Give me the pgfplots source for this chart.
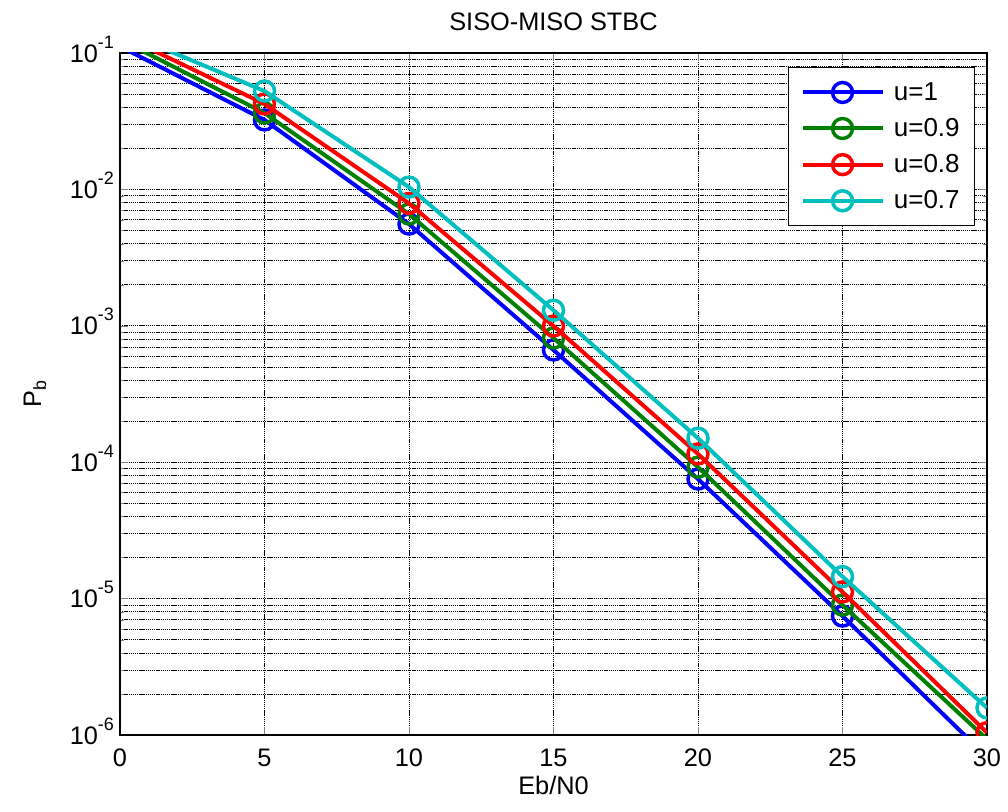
\documentclass[border=0pt]{standalone}
\usepackage{fontspec}
\setmainfont{Liberation Sans}
\usepackage{pgfplots}
\pgfplotsset{compat=1.18}

\definecolor{mblue}{rgb}{0,0,1}
\definecolor{mgreen}{rgb}{0,0.5,0}
\definecolor{mred}{rgb}{1,0,0}
\definecolor{mcyan}{rgb}{0,0.75,0.75}

\newcommand{\tickfont}{\fontsize{19}{22}\selectfont}
% MATLAB-like exponent: a bit larger and higher than \textsuperscript
\newcommand{\ex}[1]{10\raisebox{10.5pt}{\fontsize{13.5}{15}\selectfont #1}}

\begin{document}
\begin{tikzpicture}
\begin{axis}[
  name=ax, at={(0,0)}, anchor=south west,
  width=650.25pt, height=511.5pt, scale only axis,
  ymode=log,
  xmin=0, xmax=30, ymin=1e-6, ymax=1e-1,
  xtick={0,5,...,30},
  ytick={1e-6,1e-5,1e-4,1e-3,1e-2,1e-1},
  yticklabels={\ex{-6},\ex{-5},\ex{-4},\ex{-3},\ex{-2},\ex{-1}},
  /pgf/number format/assume math mode=true,
  tick label style={font=\tickfont},
  xticklabel style={yshift=-7pt},
  yticklabel style={xshift=-1pt, yshift=3pt},
  tick align=inside,
  major tick length=6pt, minor tick length=3pt,
  xmajorgrids, ymajorgrids, yminorgrids,
  major grid style={black, line width=0.5pt, dash pattern=on 1pt off 0.6pt},
  minor grid style={black, line width=0.5pt, dash pattern=on 1pt off 0.6pt},
  axis line style={black, line width=0.9pt},
  clip marker paths=true,
  title={SISO-MISO STBC},
  title style={font=\tickfont, at={(axis description cs:0.5,1.034)}, anchor=center},
  xlabel={Eb/N0},
  xlabel style={font=\tickfont, at={(axis description cs:0.5,-0.0733)}, anchor=center},
  ylabel={P\textsubscript{b}},
  ylabel style={font=\tickfont, at={(axis description cs:-0.098,0.5)}, anchor=center},
  every axis plot/.append style={line width=3pt, mark=o, mark size=7.5pt, mark options={line width=2.6pt}},
  legend style={at={(rel axis cs:0.986,0.979)}, anchor=north east,
    font=\fontsize{19.5}{23}\selectfont, draw=black, line width=0.8pt, fill=white,
    row sep=8pt, inner xsep=9pt, inner ysep=9pt,
    /tikz/every odd column/.append style={column sep=5pt},
    cells={anchor=west}},
  legend image code/.code={\draw[mark repeat=2, mark phase=2, #1] plot coordinates {(0pt,0pt) (30pt,0pt) (60pt,0pt)};},
]
\addplot[mblue] coordinates {(0,0.1117) (5,0.0323) (10,0.00557) (15,6.65e-4) (20,7.53e-5) (25,7.45e-6) (30,6.9e-7)};
\addplot[mgreen] coordinates {(0,0.1256) (5,0.0363) (10,0.0066) (15,8.14e-4) (20,9.2e-5) (25,8.97e-6) (30,9.3e-7)};
\addplot[mred] coordinates {(0,0.137) (5,0.0423) (10,0.0079) (15,9.97e-4) (20,1.15e-4) (25,1.12e-5) (30,1.04e-6)};
\addplot[mcyan] coordinates {(0,0.147) (5,0.0526) (10,0.0104) (15,1.30e-3) (20,1.50e-4) (25,1.45e-5) (30,1.58e-6)};
\legend{u=1, u=0.9, u=0.8, u=0.7}
\end{axis}
\pgfresetboundingbox
\path[use as bounding box] (-90pt,-57.75pt) rectangle (666pt,551.25pt);
\end{tikzpicture}
\end{document}
